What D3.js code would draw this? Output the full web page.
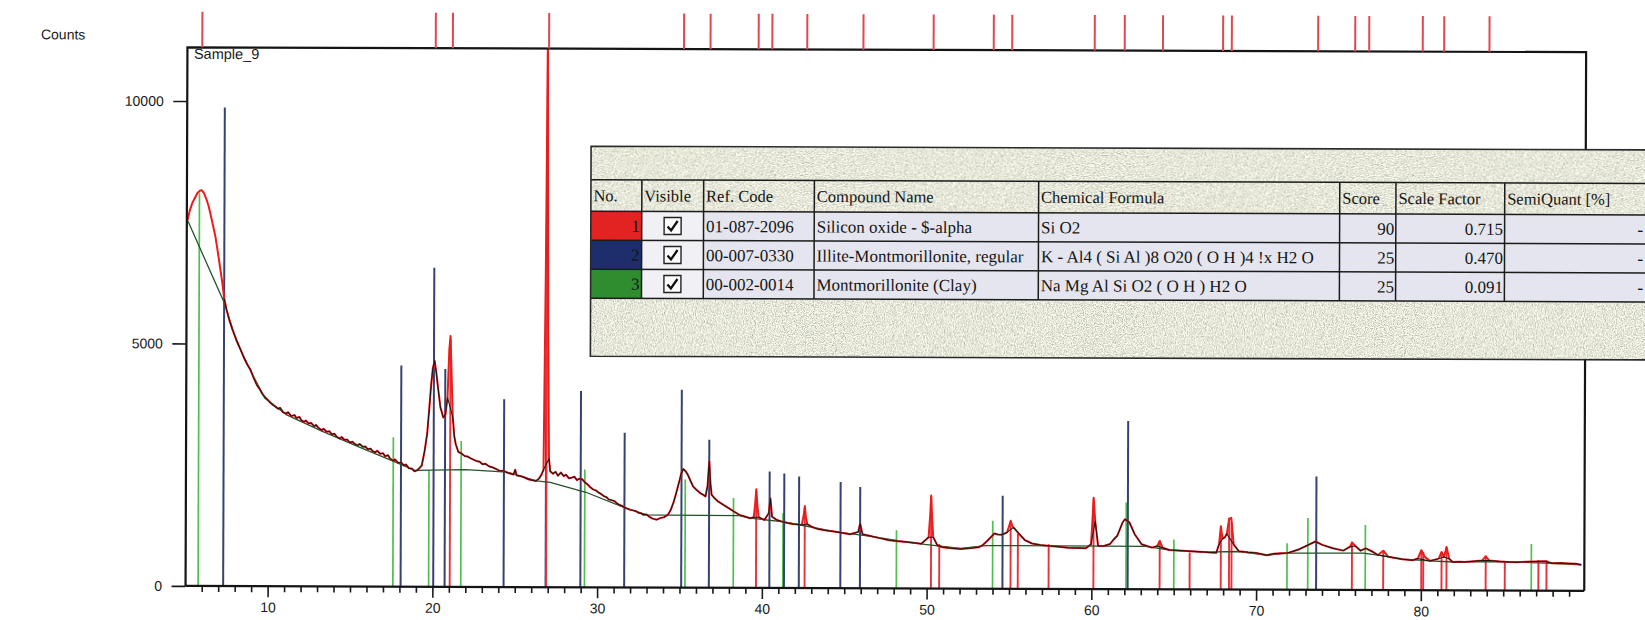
<!DOCTYPE html>
<html>
<head>
<meta charset="utf-8">
<script src="https://cdn.jsdelivr.net/npm/d3@7"></script>
<style>
html, body { margin: 0; padding: 0; background: #fff; overflow: hidden; }
svg { display: block; }
</style>
</head>
<body>
<svg id="chart" width="1645" height="620"></svg>
<script>
// ---------- axis ticks ----------
const twoThetaTicks = [10, 20, 30, 40, 50, 60, 70, 80];
const countTicks = [0, 5000, 10000];

// ---------- measured scan: [2theta, counts] ----------
const scan = [
[5.07,7550],[5.2,7750],[5.35,7900],[5.5,8000],[5.65,8100],[5.8,8150],[5.92,8160],[6.05,8100],[6.2,7980],[6.35,7820],[6.5,7600],[6.62,7420],[6.76,7200],[6.9,6900],[7.05,6560],[7.19,6240],[7.3,5930],[7.45,5700],[7.62,5485],[7.8,5300],[8.06,5070],[8.3,4880],[8.5,4720],[8.7,4580],[8.93,4450],[9.1,4300],[9.3,4150],[9.5,4050],[9.65,3960],[9.79,3900],[10.0,3830],[10.2,3760],[10.44,3700],
[10.6,3660],[10.72,3680],[10.9,3590],[11.09,3560],[11.2,3590],[11.4,3510],[11.6,3530],[11.7,3470],[11.9,3490],[12.0,3430],[12.17,3390],[12.28,3420],[12.45,3360],[12.6,3370],[12.8,3300],[12.9,3330],[13.05,3270],[13.26,3220],[13.36,3250],[13.55,3190],[13.72,3200],[13.85,3140],[14.02,3150],[14.15,3090],[14.34,3050],[14.46,3080],[14.65,3020],[14.8,3030],[14.95,2970],[15.12,2985],[15.25,2940],[15.43,2910],[15.55,2940],[15.75,2880],[15.9,2890],[16.05,2830],[16.22,2845],[16.35,2790],[16.51,2770],[16.62,2800],[16.8,2740],[16.98,2750],[17.1,2690],[17.28,2710],[17.4,2640],[17.59,2600],[17.7,2625],[17.9,2550],[18.08,2560],[18.24,2500],[18.38,2520],[18.55,2440],[18.72,2440],[18.89,2380],
[19.05,2400],[19.2,2450],[19.33,2500],[19.5,2800],[19.65,3150],[19.78,3700],[19.87,4110],[19.98,4500],[20.09,4660],[20.2,4400],[20.3,4110],[20.45,3700],[20.63,3490],[20.75,3550],[20.88,3900],[20.98,4900],[21.05,5175],[21.12,4400],[21.2,3500],[21.3,3100],[21.39,2940],[21.55,2780],[21.7,2760],[21.93,2700],[22.1,2690],[22.3,2650],[22.5,2620],[22.7,2590],[22.85,2580],[23.02,2530],[23.2,2540],[23.4,2490],[23.6,2470],[23.8,2440],[24.1,2390],[24.3,2400],[24.5,2360],[24.7,2340],[24.9,2320],[25.0,2420],[25.1,2300],[25.3,2290],[25.5,2270],[25.7,2240],[25.83,2220],[26.0,2210],[26.27,2190],[26.45,2240],[26.6,2320],[26.72,2420],[26.82,6500],[26.9,11300],[26.98,5200],[27.05,2650],
[27.13,2390],[27.3,2340],[27.45,2380],[27.6,2300],[27.78,2365],[27.95,2290],[28.1,2320],[28.25,2250],[28.43,2260],[28.6,2280],[28.75,2210],[28.9,2240],[29.08,2227],[29.25,2160],[29.4,2120],[29.55,2070],[29.73,2020],[29.9,2000],[30.05,1960],[30.2,1930],[30.38,1883],[30.55,1860],[30.7,1810],[30.85,1800],[31.03,1780],[31.2,1730],[31.35,1700],[31.5,1680],[31.68,1643],[31.85,1620],[32.0,1600],[32.17,1590],[32.34,1574],[32.5,1540],[32.65,1530],[32.8,1500],[32.99,1505],[33.15,1460],[33.3,1430],[33.42,1416],[33.6,1400],[33.85,1437],[34.05,1450],[34.29,1505],[34.45,1600],[34.61,1746],[34.78,1950],[34.94,2158],[35.08,2350],[35.2,2447],[35.35,2400],[35.48,2330],[35.65,2200],[35.8,2090],[36.0,2020],[36.24,1952],[36.4,1920],[36.56,1883],[36.68,2100],[36.78,2605],[36.86,2150],[36.93,1918],[37.1,1850],[37.32,1780],[37.6,1720],[37.97,1643],[38.3,1570],[38.62,1505],[38.95,1470],[39.27,1437],[39.49,1457],[39.57,1700],[39.64,2035],[39.71,1700],[39.79,1457],[40.14,1402],[40.4,1540],[40.5,1849],[40.6,1471],[40.9,1400],[41.22,1368],[41.55,1340],[41.87,1320],[42.2,1310],[42.41,1299],[42.52,1500],[42.59,1691],[42.66,1450],[42.74,1320],[43.05,1260],[43.39,1217],[43.9,1190],[44.47,1162],[44.9,1140],[45.34,1114],[45.84,1162],[45.95,1334],[46.1,1114],[46.64,1072],[47.2,1030],[47.72,990],[48.25,970],[48.81,955],[49.3,935],[49.67,921],[50.11,1059],[50.2,1500],[50.26,1918],[50.32,1450],[50.39,1059],[50.65,887],[50.97,852],[51.5,830],[52.06,818],[52.6,835],[53.14,852],[53.4,900],[53.68,990],[54.11,1141],[54.3,1120],[54.55,1114],[54.87,1162],[55.0,1300],[55.09,1402],[55.18,1300],[55.26,1265],[55.52,1162],[55.75,1080],[55.96,1003],[56.39,935],[56.9,905],[57.48,887],[58.0,870],[58.56,852],[59.1,845],[59.64,839],[59.97,921],[60.05,1400],[60.12,1883],[60.22,1402],[60.4,887],[60.75,890],[61.12,930],[61.36,1030],[61.56,1100],[61.88,1375],[62.03,1443],[62.3,1375],[62.62,1134],[63.04,928],[63.67,859],[63.99,893],[64.14,997],[64.31,859],[64.73,811],[65.25,800],[65.78,790],[66.3,780],[66.84,770],[67.2,765],[67.57,756],[67.74,928],[67.85,1306],[67.95,1045],[68.1,1080],[68.21,1150],[68.35,1457],[68.48,1478],[68.63,928],[68.95,790],[69.5,770],[70.0,756],[70.64,708],[71.06,742],[71.5,750],[71.9,756],[72.53,825],[73.17,928],[73.59,997],[74.01,928],[74.65,859],[75.28,811],[75.7,893],[75.81,983],[76.02,907],[76.33,811],[76.65,859],[77.07,790],[77.39,722],[77.71,811],[78.02,687],[78.87,639],[79.5,619],[79.81,653],[80.02,825],[80.23,687],[80.55,605],[81.08,653],[81.25,790],[81.4,687],[81.55,893],[81.71,653],[81.93,584],[82.3,590],[82.66,584],[83.2,600],[83.72,619],[83.93,701],[84.14,619],[84.77,598],[85.3,590],[85.83,584],[86.4,595],[86.88,598],[87.52,605],[87.94,564],[88.5,570],[88.99,564],[89.4,555],[89.73,536]
];

// ---------- fitted background: [2theta, counts] ----------
const background = [
[5.05,7550],[6.0,6830],[7.3,5850],[8.06,5050],[8.93,4430],[9.79,3880],[11.09,3540],[13.26,3200],[15.43,2890],[17.59,2590],[18.9,2400],[22.0,2420],[24.5,2370],[26.3,2190],[27.13,2160],[29.3,1960],[31.68,1640],[33.0,1500],[34.3,1495],[38.6,1490],[39.27,1437],[41.22,1368],[42.41,1295],[44.47,1160],[46.64,1070],[48.81,955],[50.0,905],[52.06,830],[53.6,890],[63.3,885],[64.73,811],[66.84,770],[68.95,785],[70.64,712],[71.9,755],[76.5,760],[77.39,722],[78.87,639],[80.55,605],[81.93,584],[84.77,598],[87.94,564],[89.73,536]
];

// ---------- reference patterns: [2theta, stick height] ----------
const quartzSticks = [
[21.05,5100],[26.9,11300],[39.64,2000],[42.59,1650],[50.26,1900],[50.76,920],[55.09,1370],[55.53,1130],[57.4,920],[60.12,1850],[64.14,1000],[65.96,760],[67.85,1300],[68.35,1480],[68.5,1370],[75.81,960],[77.71,825],[80.02,825],[80.14,790],[81.25,790],[81.55,890],[83.93,720],[85.09,600],[87.13,630],[87.62,630]
];
const illiteSticks = [
[7.3,9870],[18.07,4560],[20.05,6580],[20.74,4490],[24.32,3870],[26.87,4800],[28.98,4050],[31.64,3190],[35.1,4080],[36.78,3050],[40.45,2400],[41.34,2360],[42.24,2300],[44.76,2190],[45.95,2090],[54.6,1920],[62.2,3470],[73.64,2340]
];
const montSticks = [
[5.78,8100],[17.6,3080],[19.77,2400],[21.72,3010],[29.23,2430],[35.33,2230],[38.26,1850],[41.27,1540],[48.16,1200],[54.0,1400],[62.1,1790],[65.0,1030],[71.87,960],[73.13,1480],[76.62,1340],[86.7,960]
];

// ---------- peak list marks along the top ----------
const peakMarks = [5.92,20.09,21.13,26.97,35.16,36.77,39.69,40.52,42.64,46.05,50.31,53.96,55.08,60.09,61.91,64.23,67.88,68.41,73.65,75.9,76.75,80.0,81.3,84.05];

// ---------- pattern list table ----------
const tableHeaders = ["No.", "Visible", "Ref. Code", "Compound Name", "Chemical Formula", "Score", "Scale Factor", "SemiQuant [%]"];
const phaseNo = ["1", "2", "3"];
const phaseColors = ["#e32222", "#1c2f6c", "#2f8c2f"];
const refCodes = ["01-087-2096", "00-007-0330", "00-002-0014"];
const compoundNames = ["Silicon oxide - $-alpha", "Illite-Montmorillonite, regular", "Montmorillonite (Clay)"];
const formulas = ["Si O2", "K - Al4 ( Si Al )8 O20 ( O H )4 !x H2 O", "Na Mg Al Si O2 ( O H ) H2 O"];
const scores = ["90", "25", "25"];
const scaleFactors = ["0.715", "0.470", "0.091"];
const semiQuant = ["-", "-", "-"];

// ---------- layout ----------
const plot = { left: 186.5, top: 49.5, right: 1585.2, bottom: 588.1 };
const sansFont = "'Liberation Sans', Arial, Helvetica, sans-serif";
const serifFont = "'Liberation Serif', 'Times New Roman', serif";

const x = d3.scaleLinear().domain([5, 89.9]).range([186.2, 1584.9]);
const y = d3.scaleLinear().domain([0, 10000]).range([588.1, 103.2]);

const svg = d3.select("#chart");
const defs = svg.append("defs");

defs.append("clipPath").attr("id", "plotClip")
  .append("rect")
  .attr("x", plot.left).attr("y", plot.top)
  .attr("width", plot.right - plot.left).attr("height", plot.bottom - plot.top);

// granite-like panel texture
const grain = defs.append("filter").attr("id", "grain")
  .attr("x", 0).attr("y", 0).attr("width", 1).attr("height", 1);
grain.append("feTurbulence").attr("type", "fractalNoise")
  .attr("baseFrequency", 0.9).attr("numOctaves", 2).attr("seed", 5).attr("result", "n");
grain.append("feColorMatrix").attr("in", "n").attr("type", "matrix")
  .attr("values", "1.3 0 0 0 0.14  1.3 0 0 0 0.15  1.15 0 0 0 0.12  0 0 0 0 1");

const root = svg.append("g").attr("transform", "rotate(0.2 815 318)");

// ---------- plot content ----------
const inner = root.append("g").attr("clip-path", "url(#plotClip)");

function drawSticks(data, color, width) {
  inner.append("g").selectAll("line").data(data).join("line")
    .attr("x1", d => x(d[0])).attr("x2", d => x(d[0]))
    .attr("y1", y(0)).attr("y2", d => y(d[1]))
    .attr("stroke", color).attr("stroke-width", width);
}
drawSticks(montSticks, "#4fbf4f", 1.7);
drawSticks(illiteSticks, "#36426f", 2);
drawSticks(quartzSticks, "#e8323a", 1.9);

const line = d3.line().x(d => x(d[0])).y(d => y(d[1]));

inner.append("path").datum(background)
  .attr("d", line).attr("fill", "none")
  .attr("stroke", "#24522a").attr("stroke-width", 1.3);

inner.append("path").datum(scan)
  .attr("d", line).attr("fill", "none")
  .attr("stroke", "#ee1b1b").attr("stroke-width", 2).attr("stroke-linejoin", "round");

// profile trace without the sharp quartz reflections
const profile = scan.filter(d => d[0] >= 7.3 && !quartzSticks.some(s => Math.abs(s[0] - d[0]) < 0.1));
inner.append("path").datum(profile)
  .attr("d", line).attr("fill", "none")
  .attr("stroke", "#161616").attr("stroke-width", 1).attr("stroke-linejoin", "round");

// ---------- frame ----------
root.append("path")
  .attr("d", `M${plot.left},${plot.bottom} V${plot.top} H${plot.right} V${plot.bottom}`)
  .attr("fill", "none").attr("stroke", "#141414").attr("stroke-width", 2.2);

// ---------- axes ----------
const minorTicks = d3.range(6, 90).filter(v => v % 10 !== 0);
root.append("g").attr("transform", `translate(0,${plot.bottom})`)
  .call(d3.axisBottom(x).tickValues(minorTicks).tickSize(6).tickFormat(""))
  .call(g => g.select(".domain").remove())
  .call(g => g.selectAll("line").attr("stroke", "#1a1a1a").attr("stroke-width", 1.6));

const xAxis = root.append("g").attr("transform", `translate(0,${plot.bottom})`)
  .call(d3.axisBottom(x).tickValues(twoThetaTicks).tickSize(11).tickPadding(5).tickFormat(d3.format("d")));
xAxis.select(".domain").attr("stroke", "#141414").attr("stroke-width", 2.2)
  .attr("d", `M${plot.left},0H${plot.right}`);
xAxis.selectAll("line").attr("stroke", "#1a1a1a").attr("stroke-width", 1.6);
xAxis.selectAll("text").attr("font-family", sansFont).attr("font-size", 14).attr("fill", "#1a1a1a");

const yAxis = root.append("g").attr("transform", `translate(${plot.left},0)`)
  .call(d3.axisLeft(y).tickValues(countTicks).tickSize(14).tickPadding(9.5).tickFormat(d3.format("d")));
yAxis.select(".domain").remove();
yAxis.selectAll("line").attr("stroke", "#1a1a1a").attr("stroke-width", 1.6);
yAxis.selectAll("text").attr("font-family", sansFont).attr("font-size", 14).attr("fill", "#1a1a1a");

// ---------- peak marks above the frame ----------
root.append("g").selectAll("line").data(peakMarks).join("line")
  .attr("x1", d => x(d)).attr("x2", d => x(d))
  .attr("y1", 14).attr("y2", plot.top)
  .attr("stroke", "#e0484f").attr("stroke-width", 2);

// ---------- labels ----------
root.append("text").attr("x", 40).attr("y", 42)
  .attr("font-family", sansFont).attr("font-size", 14).attr("fill", "#1a1a1a")
  .text("Counts");
root.append("text").attr("x", 193).attr("y", 61)
  .attr("font-family", sansFont).attr("font-size", 14.5).attr("fill", "#1a1a1a")
  .text("Sample_9");

// ---------- pattern list table ----------
const tbl = {
  left: 590.5, top: 147, right: 1665, bottom: 357,
  headTop: 180.5, rowTops: [212, 241, 270], rowBottom: 299,
  cols: [590.5, 641.4, 703.2, 813.9, 1038.2, 1339.3, 1395.5, 1504.3, 1665]
};
const tg = root.append("g");

tg.append("rect")
  .attr("x", tbl.left).attr("y", tbl.top)
  .attr("width", tbl.right - tbl.left).attr("height", tbl.bottom - tbl.top)
  .attr("fill", "#c9ccb5").attr("filter", "url(#grain)");

// row backgrounds
phaseNo.forEach((n, i) => {
  const top = tbl.rowTops[i];
  const bottom = i < 2 ? tbl.rowTops[i + 1] : tbl.rowBottom;
  tg.append("rect").attr("x", tbl.cols[1]).attr("y", top)
    .attr("width", tbl.cols[8] - tbl.cols[1]).attr("height", bottom - top)
    .attr("fill", "#e4e5ee");
  tg.append("rect").attr("x", tbl.cols[1]).attr("y", top)
    .attr("width", tbl.cols[2] - tbl.cols[1]).attr("height", bottom - top)
    .attr("fill", "#f1f1f5");
  tg.append("rect").attr("x", tbl.cols[0]).attr("y", top)
    .attr("width", tbl.cols[1] - tbl.cols[0]).attr("height", bottom - top)
    .attr("fill", phaseColors[i]);
});

// grid lines
const gridColor = "#1c1c1c";
[tbl.headTop, tbl.rowTops[0], tbl.rowTops[1], tbl.rowTops[2], tbl.rowBottom].forEach(yy => {
  tg.append("line").attr("x1", tbl.left).attr("x2", tbl.right)
    .attr("y1", yy).attr("y2", yy).attr("stroke", gridColor).attr("stroke-width", 1.5);
});
tbl.cols.slice(1, 8).forEach(xx => {
  tg.append("line").attr("x1", xx).attr("x2", xx)
    .attr("y1", tbl.headTop).attr("y2", tbl.rowBottom)
    .attr("stroke", gridColor).attr("stroke-width", 1.5);
});
tg.append("path")
  .attr("d", `M${tbl.right},${tbl.top} H${tbl.left} V${tbl.bottom} H${tbl.right}`)
  .attr("fill", "none").attr("stroke", "#2a2a2a").attr("stroke-width", 1.6);

// header texts
const headerY = 202;
tableHeaders.forEach((h, j) => {
  tg.append("text").attr("x", tbl.cols[j] + 2.5).attr("y", headerY)
    .attr("font-family", serifFont).attr("font-size", 16.5).attr("fill", "#151515")
    .text(h);
});

// row texts
phaseNo.forEach((n, i) => {
  const top = tbl.rowTops[i];
  const bottom = i < 2 ? tbl.rowTops[i + 1] : tbl.rowBottom;
  const cy = (top + bottom) / 2;
  const by = cy + 6;
  const t = (xx, s, anchor) => tg.append("text").attr("x", xx).attr("y", by)
    .attr("font-family", serifFont).attr("font-size", 17).attr("fill", "#151515")
    .attr("text-anchor", anchor || "start").text(s);
  t(tbl.cols[1] - 2, n, "end");
  t(tbl.cols[2] + 2.5, refCodes[i]);
  t(tbl.cols[3] + 2.5, compoundNames[i]);
  t(tbl.cols[4] + 2.5, formulas[i]);
  t(tbl.cols[6] - 1.5, scores[i], "end");
  t(tbl.cols[7] - 1.5, scaleFactors[i], "end");
  t(1643, semiQuant[i], "end");
  // visible checkbox
  const bx = (tbl.cols[1] + tbl.cols[2]) / 2;
  tg.append("rect").attr("x", bx - 8.5).attr("y", cy - 8.5).attr("width", 17).attr("height", 17)
    .attr("fill", "#fbfbfb").attr("stroke", "#222").attr("stroke-width", 1.4);
  tg.append("path")
    .attr("d", `M${bx - 5},${cy + 0.5} L${bx - 1.5},${cy + 4.5} L${bx + 5},${cy - 5}`)
    .attr("fill", "none").attr("stroke", "#111").attr("stroke-width", 2.3);
});
</script>
</body>
</html>
